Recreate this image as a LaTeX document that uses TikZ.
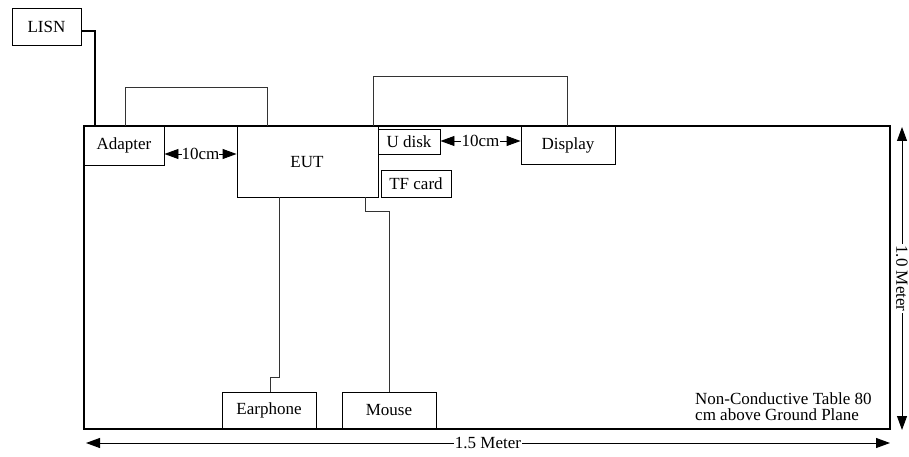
\documentclass[tikz,border=0pt]{standalone}
\usepackage{fontspec}
\setmainfont{Liberation Serif}
\usetikzlibrary{arrows.meta}
\begin{document}
\begin{tikzpicture}[x=1pt,y=-1pt,
  every node/.style={font=\fontsize{17}{18}\selectfont},
  box/.style={draw, line width=0.9pt, inner sep=0pt},
  cable/.style={draw, line width=0.9pt, black!80},
  dim/.style={line width=0.9pt, {Triangle[length=14pt,width=10pt]}-{Triangle[length=14pt,width=10pt]}},
  lbl/.style={fill=white, inner sep=1pt}]
\useasboundingbox (0,0) rectangle (909,457);
% table
\node[draw, line width=2pt, minimum width=806, minimum height=303, inner sep=0pt] (table) at (487,277.5) {};
% LISN
\node[box, minimum width=69, minimum height=37] (lisn) at (46.5,26.5) {LISN};
% Adapter
\node[box, minimum width=80, minimum height=39] (adapter) at (124,145.5) {Adapter};
% EUT
\node[box, minimum width=141, minimum height=71] (eut) at (307.5,161.5) {};
\node (euttext) at (307,162) {EUT};
% U disk
\node[box, minimum width=62, minimum height=25] (udisk) at (409,141.5) {U disk};
% TF card
\node[box, minimum width=70, minimum height=27] (tf) at (416,183.5) {TF card};
% Display
\node[box, minimum width=94, minimum height=38] (display) at (568,145) {Display};
% Earphone, Mouse
\node[box, minimum width=94, minimum height=37] (earphone) at (269,410.5) {Earphone};
\node[box, minimum width=94, minimum height=37] (mouse) at (389,410.5) {Mouse};
% LISN cable
\coordinate (lc1) at (95,31);
\draw[line width=2.8pt] (lisn.east |- lc1) -- (lc1) -- (lc1 |- table.north);
% adapter - EUT cable
\coordinate (ac1) at (125,87);
\coordinate (ac2) at (267,87);
\draw[cable] (ac1 |- adapter.north) -- (ac1) -- (ac2) -- (ac2 |- eut.north);
% EUT - display cable
\coordinate (dc1) at (373,76);
\coordinate (dc2) at (567,76);
\draw[cable] (dc1 |- eut.north) -- (dc1) -- (dc2) -- (dc2 |- display.north);
% earphone cable
\coordinate (ec1) at (279,377);
\coordinate (ec2) at (270,377);
\draw[cable] (ec1 |- eut.south) -- (ec1) -- (ec2) -- (ec2 |- earphone.north);
% mouse cable
\coordinate (mc1) at (365,211);
\coordinate (mc2) at (389,211);
\draw[cable] (mc1 |- eut.south) -- (mc1) -- (mc2) -- (mc2 |- mouse.north);
% 10cm arrows
\coordinate (a1) at (0,154);
\draw[dim] (adapter.east |- a1) -- (eut.west |- a1) node[midway, lbl, inner sep=0pt] {10cm};
\coordinate (a2) at (0,141);
\draw[dim] (udisk.east |- a2) -- (display.west |- a2) node[midway, lbl] {10cm};
% dimension arrows
\coordinate (b1) at (86,443);
\coordinate (b2) at (890,443);
\draw[dim] (b1) -- (b2) node[pos=0.5, lbl] {1.5 Meter};
\coordinate (r1) at (902,127);
\coordinate (r2) at (902,430);
\draw[dim] (r1) -- (r2) node[midway, lbl, rotate=-90] {1.0 Meter};
% note
\node[anchor=north west, align=left, inner sep=0pt, font=\fontsize{17}{16.5}\selectfont] (note) at (695,392) {Non-Conductive Table 80\\cm above Ground Plane};
\end{tikzpicture}
\end{document}
